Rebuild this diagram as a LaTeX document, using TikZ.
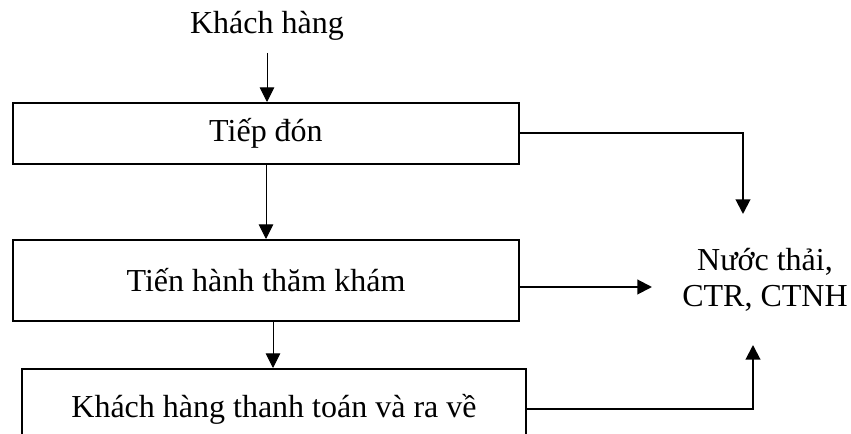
\documentclass[tikz,border=0pt]{standalone}
\usepackage{fontspec}
\setmainfont{Liberation Serif}
\usetikzlibrary{arrows.meta}

\begin{document}
\begin{tikzpicture}[x=0.75pt, y=-0.75pt,
  every node/.style={font=\fontsize{24}{27}\selectfont, inner sep=0pt},
  stagebox/.style={draw, line width=1.5pt, rectangle, minimum width=#1},
  thinarrow/.style={line width=0.75pt, -{Triangle[width=11pt, length=11pt]}},
  thickarrow/.style={line width=1.5pt, -{Triangle[width=11pt, length=11pt]}},
]
\useasboundingbox (0,0) rectangle (851,434);
\clip (0,0) rectangle (851,434);

% start label
\node[anchor=base] (khach) at (267,34) {Khách hàng};

% process stages
\node[stagebox=506*0.75pt, minimum height=61*0.75pt] (tiepdon) at (266,133.5) {Tiếp đón};
\node[stagebox=506*0.75pt, minimum height=81*0.75pt] (khambenh) at (266,280.5) {Tiến hành thăm khám};
\node[stagebox=504*0.75pt, minimum height=80*0.75pt] (thanhtoan) at (274,409) {Khách hàng thanh toán và ra về};

% waste output
\node[align=center] (chatthai) at (765,280) {Nước thải,\\CTR, CTNH};

% free ends of the waste connectors
\coordinate (topcorner) at (743,133.5);
\coordinate (toptip) at (743,214);
\coordinate (midtip) at (652,287);
\coordinate (botcorner) at (753,409);
\coordinate (bottip) at (753,345);

% main flow
\draw[thinarrow] (267,53) -- (tiepdon.north -| 267,0);
\draw[thinarrow] (tiepdon.south) -- (khambenh.north);
\draw[thinarrow] (khambenh.south -| 273,0) -- (thanhtoan.north -| 273,0);

% waste streams
\draw[thickarrow] (tiepdon.east) -- (topcorner) -- (toptip);
\draw[thickarrow] (khambenh.east |- midtip) -- (midtip);
\draw[thickarrow] (thanhtoan.east) -- (botcorner) -- (bottip);
\end{tikzpicture}
\end{document}
